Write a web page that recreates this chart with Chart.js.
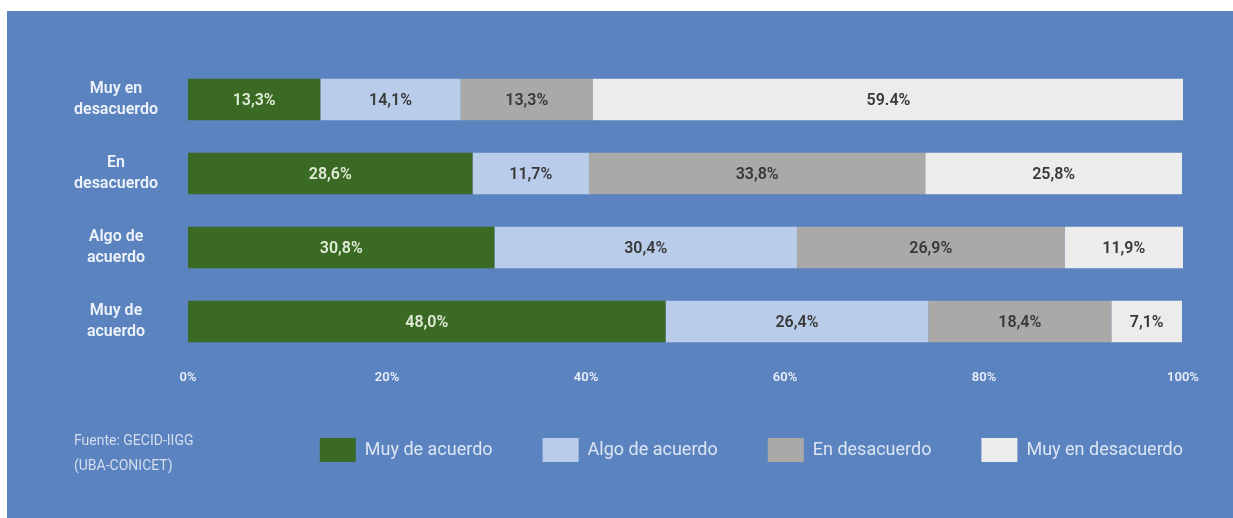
<!DOCTYPE html>
<html>
<head>
<meta charset="utf-8">
<script src="https://cdn.jsdelivr.net/npm/chart.js@4"></script>
<style>
  body { margin: 0; background: #fff; }
  #panel { position: absolute; left: 7px; top: 11px; width: 1226px; height: 507px; background: #5b83bf; }
</style>
</head>
<body>
<div id="panel"><canvas id="myChart"></canvas></div>
<script>
const categories = [['Muy en', 'desacuerdo'], ['En', 'desacuerdo'], ['Algo de', 'acuerdo'], ['Muy de', 'acuerdo']];
const seriesNames = ['Muy de acuerdo', 'Algo de acuerdo', 'En desacuerdo', 'Muy en desacuerdo'];
const muyDeAcuerdo = [13.3, 28.6, 30.8, 48.0];
const algoDeAcuerdo = [14.1, 11.7, 30.4, 26.4];
const enDesacuerdo = [13.3, 33.8, 26.9, 18.4];
const muyEnDesacuerdo = [59.4, 25.8, 11.9, 7.1];
const xTicks = [0, 20, 40, 60, 80, 100];
const source = ['Fuente: GECID-IIGG', '(UBA-CONICET)'];

const colors = ['#3a6a23', '#b9cdeb', '#aaa9a7', '#ececec'];
const fontFamily = 'Roboto, "Open Sans", sans-serif';

// the original writes this one label with a point instead of a comma
const pointDecimal = { series: 3, row: 0 };

function fmt(v, i, j) {
  let s = v.toFixed(1);
  if (!(i === pointDecimal.series && j === pointDecimal.row)) s = s.replace('.', ',');
  return s + '%';
}

const barLabels = {
  id: 'barLabels',
  afterDatasetsDraw(chart) {
    const ctx = chart.ctx;
    ctx.save();
    ctx.font = '600 16px ' + fontFamily;
    ctx.textAlign = 'center';
    ctx.textBaseline = 'middle';
    chart.data.datasets.forEach((ds, i) => {
      chart.getDatasetMeta(i).data.forEach((bar, j) => {
        const p = bar.getProps(['x', 'y', 'base'], true);
        ctx.fillStyle = i === 0 ? '#e2ebd8' : '#383838';
        ctx.fillText(fmt(ds.data[j], i, j), (p.x + p.base) / 2, p.y + 1);
      });
    });
    ctx.restore();
  }
};

const sourceNote = {
  id: 'sourceNote',
  afterDraw(chart) {
    const ctx = chart.ctx;
    ctx.save();
    ctx.font = '14px ' + fontFamily;
    ctx.fillStyle = '#d3ddee';
    ctx.textAlign = 'left';
    ctx.textBaseline = 'middle';
    source.forEach((line, k) => ctx.fillText(line, 67, 430 + k * 25));
    ctx.restore();
  }
};

let myChart = document.getElementById('myChart').getContext('2d');

let stackChart = new Chart(myChart, {
  type: 'bar',
  data: {
    labels: categories,
    datasets: [muyDeAcuerdo, algoDeAcuerdo, enDesacuerdo, muyEnDesacuerdo].map((d, i) => ({
      label: seriesNames[i],
      data: d,
      backgroundColor: colors[i],
      borderWidth: 0,
      barPercentage: 0.56,
      categoryPercentage: 1
    }))
  },
  options: {
    indexAxis: 'y',
    responsive: true,
    maintainAspectRatio: false,
    animation: false,
    layout: { padding: { top: 48, bottom: 46, left: 0, right: 0 } },
    scales: {
      x: {
        stacked: true,
        min: 0,
        max: 100,
        border: { display: false },
        grid: { display: false, drawTicks: false },
        afterBuildTicks(s) { s.ticks = xTicks.map(v => ({ value: v })); },
        afterFit(s) { s.height = 29.5; s.paddingRight = 50; },
        ticks: {
          padding: 11,
          color: '#e9eff8',
          font: { family: fontFamily, size: 13, weight: '600' },
          callback: v => v + '%'
        }
      },
      y: {
        stacked: true,
        border: { display: false },
        grid: { display: false, drawTicks: false },
        afterFit(s) { s.width = 181; },
        ticks: {
          padding: 30,
          crossAlign: 'center',
          color: '#eef2f9',
          font: { family: fontFamily, size: 16, weight: '600', lineHeight: 1.35 }
        }
      }
    },
    plugins: {
      tooltip: { enabled: false },
      legend: {
        position: 'bottom',
        align: 'end',
        labels: {
          boxWidth: 36,
          boxHeight: 24,
          padding: 50,
          color: '#dce5f3',
          font: { family: fontFamily, size: 18 }
        }
      }
    }
  },
  plugins: [barLabels, sourceNote]
});
</script>
</body>
</html>
